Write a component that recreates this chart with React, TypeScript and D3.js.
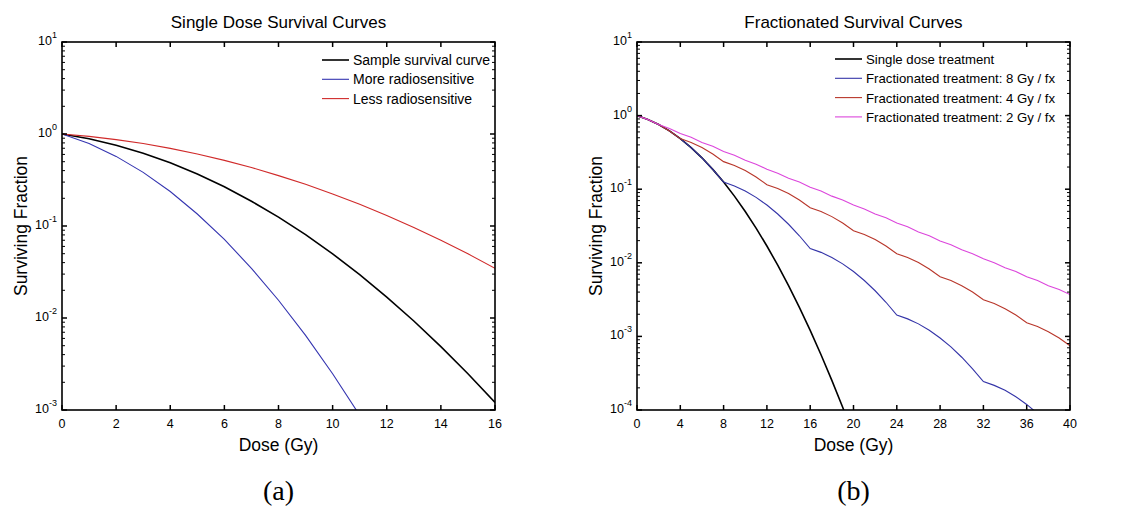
import React, { useRef, useEffect } from "react";
import * as d3 from "d3";

// doses (Gy) for the single dose panel
const doseA = [0, 1, 2, 3, 4, 5, 6, 7, 8, 9, 10, 11, 12, 13, 14, 15, 16];
const sampleCurve = [1, 0.887, 0.756, 0.619, 0.487, 0.368, 0.267, 0.186, 0.125, 0.0805, 0.0498, 0.0296, 0.0169, 0.00928, 0.00489, 0.00248, 0.00121];
const moreSensitive = [1, 0.787, 0.571, 0.383, 0.237, 0.135, 0.0714, 0.0347, 0.0156, 0.00647, 0.00248, 0.000876];
const lessSensitive = [1, 0.942, 0.869, 0.787, 0.698, 0.607, 0.517, 0.432, 0.353, 0.284, 0.223, 0.172, 0.13, 0.0963, 0.0699, 0.0498, 0.0347];

// doses (Gy) for the fractionated panel
const doseB = d3.range(0, 41);
const singleTreatment = [1, 0.887, 0.756, 0.619, 0.487, 0.368, 0.267, 0.186, 0.125, 0.0805, 0.0498, 0.0296, 0.0169, 0.00928, 0.00489, 0.00248, 0.00121, 0.000564, 0.000253, 0.000109, 0.0000454];
const frac8 = [1, 0.887, 0.756, 0.619, 0.487, 0.368, 0.267, 0.186, 0.125,
  0.1109, 0.0945, 0.0774, 0.0609, 0.046, 0.0334, 0.0233, 0.0156,
  0.01386, 0.01181, 0.00967, 0.00761, 0.00575, 0.00417, 0.00291, 0.00195,
  0.00173, 0.00148, 0.00121, 0.000951, 0.000719, 0.000521, 0.000363, 0.000244,
  0.000216, 0.000185, 0.000151, 0.000119, 0.0000898];
const frac4 = [1, 0.887, 0.756, 0.619, 0.487, 0.432, 0.368, 0.301,
  0.2369, 0.2101, 0.1791, 0.1466, 0.1153, 0.1023, 0.0872, 0.0714,
  0.0561, 0.0498, 0.0424, 0.0347, 0.0273, 0.0242, 0.0207, 0.0169,
  0.0133, 0.0118, 0.01006, 0.00823, 0.00647, 0.00574, 0.00489, 0.00401,
  0.00315, 0.00279, 0.00238, 0.00195, 0.001534, 0.00136, 0.00116, 0.00095, 0.000747];
const frac2 = [1, 0.887, 0.7558, 0.67, 0.5712, 0.507, 0.4317, 0.383, 0.3263, 0.289,
  0.2466, 0.219, 0.1864, 0.165, 0.1409, 0.125, 0.1065, 0.0945, 0.0805, 0.0714,
  0.0608, 0.0539, 0.046, 0.0408, 0.0347, 0.0308, 0.02625, 0.0233, 0.01984, 0.0176,
  0.015, 0.0133, 0.01133, 0.01005, 0.00857, 0.0076, 0.00647, 0.00574, 0.00489, 0.00434, 0.0037];

const xTicksA = [0, 2, 4, 6, 8, 10, 12, 14, 16];
const xTicksB = [0, 4, 8, 12, 16, 20, 24, 28, 32, 36, 40];

const panels = [
  {
    id: "a",
    title: "Single Dose Survival Curves",
    caption: "(a)",
    left: 62, right: 495,
    xMax: 16, xTicks: xTicksA,
    yMin: -3,
    legendX: 322, legendY: 60, legendFont: 14,
    series: [
      { name: "Sample survival curve", x: doseA, y: sampleCurve, color: "#000000", width: 1.6 },
      { name: "More radiosensitive", x: doseA, y: moreSensitive, color: "#3434b0", width: 1.1 },
      { name: "Less radiosensitive", x: doseA, y: lessSensitive, color: "#d02a2a", width: 1.1 },
    ],
  },
  {
    id: "b",
    title: "Fractionated Survival Curves",
    caption: "(b)",
    left: 637, right: 1070,
    xMax: 40, xTicks: xTicksB,
    yMin: -4,
    legendX: 835, legendY: 59, legendFont: 13.2,
    series: [
      { name: "Single dose treatment", x: doseB, y: singleTreatment, color: "#000000", width: 1.6 },
      { name: "Fractionated treatment: 8 Gy / fx", x: doseB, y: frac8, color: "#3434a8", width: 1.1 },
      { name: "Fractionated treatment: 4 Gy / fx", x: doseB, y: frac4, color: "#b8362a", width: 1.1 },
      { name: "Fractionated treatment: 2 Gy / fx", x: doseB, y: frac2, color: "#dc46dc", width: 1.1 },
    ],
  },
];

const App = () => {
  const svgRef = useRef(null);

  useEffect(() => {
    const svg = d3.select(svgRef.current);
    svg.selectAll("*").remove();

    const top = 42;
    const bottom = 410;
    const font = "'Liberation Sans', Arial, Helvetica, sans-serif";

    panels.forEach((p) => {
      const x = d3.scaleLinear().domain([0, p.xMax]).range([p.left, p.right]);
      const y = d3.scaleLog().domain([Math.pow(10, p.yMin), 10]).range([bottom, top]);
      const g = svg.append("g");
      const cx = (p.left + p.right) / 2;

      // clip
      svg.append("clipPath").attr("id", `clip-${p.id}`)
        .append("rect")
        .attr("x", p.left).attr("y", top)
        .attr("width", p.right - p.left).attr("height", bottom - top);

      // curves
      const line = d3.line()
        .x((d) => x(d[0]))
        .y((d) => y(d[1]));
      const curves = g.append("g").attr("clip-path", `url(#clip-${p.id})`);
      p.series.forEach((s) => {
        curves.append("path")
          .datum(s.y.map((v, i) => [s.x[i], v]))
          .attr("fill", "none")
          .attr("stroke", s.color)
          .attr("stroke-width", s.width)
          .attr("d", line);
      });

      // legend
      p.series.forEach((s, i) => {
        const ly = p.legendY + i * 19.3;
        g.append("line")
          .attr("x1", p.legendX).attr("x2", p.legendX + 27)
          .attr("y1", ly).attr("y2", ly)
          .attr("stroke", s.color).attr("stroke-width", s.width);
        g.append("text")
          .attr("x", p.legendX + 31).attr("y", ly + 5)
          .style("font-family", font).style("font-size", `${p.legendFont}px`)
          .text(s.name);
      });

      // box + ticks
      const axis = g.append("g").attr("stroke", "#000").attr("fill", "none");
      p.xTicks.forEach((t) => {
        axis.append("line").attr("x1", x(t)).attr("x2", x(t)).attr("y1", bottom).attr("y2", bottom - 5).attr("stroke-width", 1.5);
        axis.append("line").attr("x1", x(t)).attr("x2", x(t)).attr("y1", top).attr("y2", top + 5).attr("stroke-width", 1.5);
        g.append("text")
          .attr("x", x(t)).attr("y", bottom + 18)
          .attr("text-anchor", "middle")
          .style("font-family", font).style("font-size", "12.5px")
          .text(t);
      });
      for (let e = p.yMin; e <= 1; e++) {
        const v = Math.pow(10, e);
        axis.append("line").attr("x1", p.left).attr("x2", p.left + 5).attr("y1", y(v)).attr("y2", y(v)).attr("stroke-width", 1.5);
        axis.append("line").attr("x1", p.right).attr("x2", p.right - 5).attr("y1", y(v)).attr("y2", y(v)).attr("stroke-width", 1.5);
        const lab = g.append("text")
          .attr("x", p.left - 5).attr("y", y(v) + 3)
          .attr("text-anchor", "end")
          .style("font-family", font).style("font-size", "12.5px");
        lab.append("tspan").text("10");
        lab.append("tspan").attr("dy", -7).style("font-size", "9px").text(`${e}`);
        if (e < 1) {
          for (let m = 2; m <= 9; m++) {
            const mv = m * v;
            axis.append("line").attr("x1", p.left).attr("x2", p.left + 3).attr("y1", y(mv)).attr("y2", y(mv)).attr("stroke-width", 1);
            axis.append("line").attr("x1", p.right).attr("x2", p.right - 3).attr("y1", y(mv)).attr("y2", y(mv)).attr("stroke-width", 1);
          }
        }
      }
      axis.append("rect")
        .attr("x", p.left).attr("y", top)
        .attr("width", p.right - p.left).attr("height", bottom - top)
        .attr("stroke-width", 1.6);

      // titles
      g.append("text")
        .attr("x", cx).attr("y", 28)
        .attr("text-anchor", "middle")
        .style("font-family", font).style("font-size", "17px")
        .text(p.title);
      g.append("text")
        .attr("x", cx).attr("y", 451)
        .attr("text-anchor", "middle")
        .style("font-family", font).style("font-size", "17.5px")
        .text("Dose (Gy)");
      g.append("text")
        .attr("transform", `translate(${p.left - 35}, ${(top + bottom) / 2}) rotate(-90)`)
        .attr("text-anchor", "middle")
        .style("font-family", font).style("font-size", "17.5px")
        .text("Surviving Fraction");
      g.append("text")
        .attr("x", cx).attr("y", 500)
        .attr("text-anchor", "middle")
        .style("font-family", "'Liberation Serif', 'DejaVu Serif', serif").style("font-size", "28px")
        .text(p.caption);
    });
  }, []);

  return (
    <svg
      ref={svgRef}
      width={1125}
      height={506}
      style={{ position: "absolute", left: 0, top: 0, background: "#fff" }}
    />
  );
};

export default App;
